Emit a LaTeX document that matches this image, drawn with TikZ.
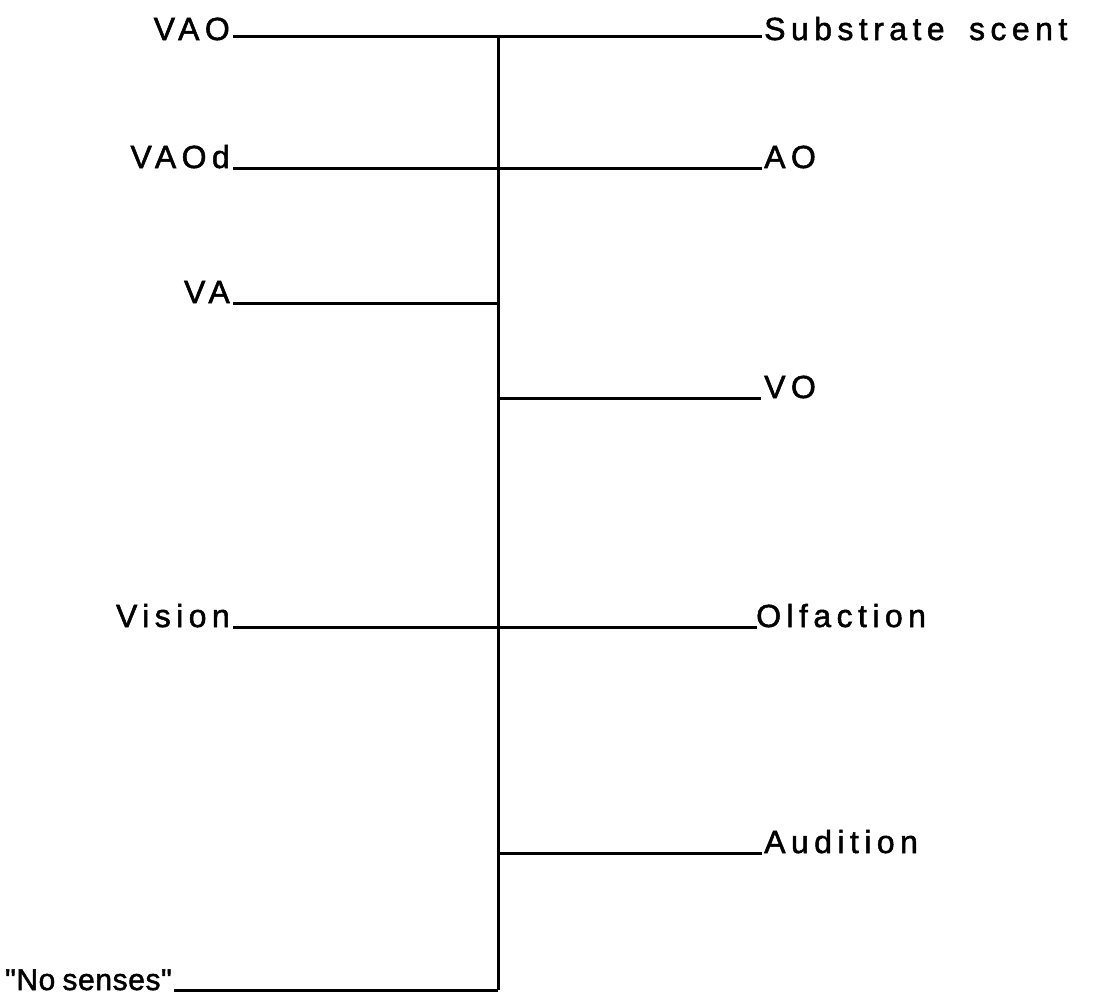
\documentclass[tikz,border=0pt]{standalone}
\usepackage{fontspec}
\newfontfamily\labelfont[LetterSpace=17,FakeBold=1.6,WordSpace=1.7]{Liberation Sans}
\newfontfamily\tightfont[LetterSpace=2,FakeBold=1.6,WordSpace=0.8]{Liberation Sans}
\begin{document}
\begin{tikzpicture}[x=1pt,y=-1pt,
  lbl/.style={inner sep=0pt,font=\labelfont\fontsize{32}{36}\selectfont},
  left lbl/.style={lbl,anchor=base east},
  right lbl/.style={lbl,anchor=base west},
  branch/.style={line width=3pt}]
\useasboundingbox (0,0) rectangle (1096,1004);

% spine of the diagram
\coordinate (top) at (498,36);
\coordinate (bot) at (498,990);
\coordinate (jva) at (498,303);
\coordinate (jvo) at (498,398);
\coordinate (jau) at (498,853);

% labels on the left
\node[left lbl] (vao)   at (230,40)  {VAO};
\node[left lbl] (vaod)  at (230,168) {VAOd};
\node[left lbl] (va)    at (230,303) {VA};
\node[left lbl] (vis)   at (230,627) {Vision};
\node[left lbl,font=\tightfont\fontsize{30}{34}\selectfont] (none) at (172,990) {"No senses"};

% labels on the right
\node[right lbl] (sub)  at (764,40)  {Substrate scent};
\node[right lbl] (ao)   at (764,168) {AO};
\node[right lbl] (vo)   at (764,398) {VO};
\node[right lbl] (olf)  at (756,627) {Olfaction};
\node[right lbl] (aud)  at (764,853) {Audition};

% connectors
\draw[branch] (top) -- (bot);
\draw[branch] (vao.base east) ++(3,-4) -- ([shift={(-2,-4)}]sub.base west);
\draw[branch] (vaod.base east) ++(3,0) -- ([xshift=-2]ao.base west);
\draw[branch] (va.base east) ++(3,0) -- (jva);
\draw[branch] (jvo) -- ([xshift=-3]vo.base west);
\draw[branch] (vis.base east) ++(3,0) -- ([xshift=1]olf.base west);
\draw[branch] (jau) -- ([xshift=-2]aud.base west);
\draw[branch] (none.base east) ++(2,0) -- (bot);
\end{tikzpicture}
\end{document}
